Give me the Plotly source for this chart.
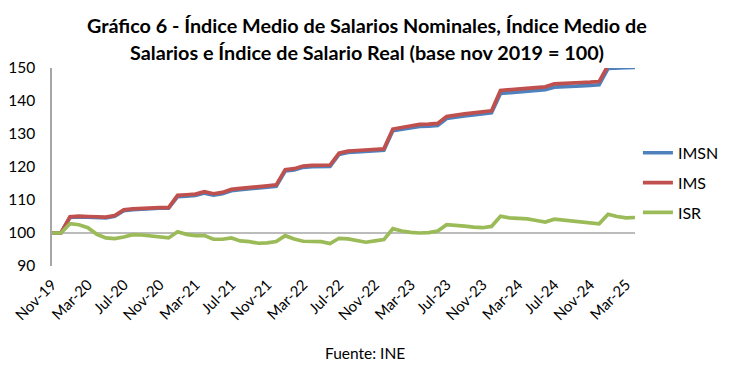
import plotly.graph_objects as go

months = ["Nov-19","Dec-19","Jan-20","Feb-20","Mar-20","Apr-20","May-20","Jun-20","Jul-20","Aug-20","Sep-20","Oct-20",
          "Nov-20","Dec-20","Jan-21","Feb-21","Mar-21","Apr-21","May-21","Jun-21","Jul-21","Aug-21","Sep-21","Oct-21",
          "Nov-21","Dec-21","Jan-22","Feb-22","Mar-22","Apr-22","May-22","Jun-22","Jul-22","Aug-22","Sep-22","Oct-22",
          "Nov-22","Dec-22","Jan-23","Feb-23","Mar-23","Apr-23","May-23","Jun-23","Jul-23","Aug-23","Sep-23","Oct-23",
          "Nov-23","Dec-23","Jan-24","Feb-24","Mar-24","Apr-24","May-24","Jun-24","Jul-24","Aug-24","Sep-24","Oct-24",
          "Nov-24","Dec-24","Jan-25","Feb-25","Mar-25","Apr-25"]

ims = [100.0, 100.0, 104.9, 105.1, 105.0, 104.8, 104.8, 105.3, 107.0, 107.3, 107.5, 107.6,
       107.7, 107.7, 111.4, 111.6, 111.8, 112.5, 111.9, 112.3, 113.2, 113.5, 113.7, 114.0,
       114.3, 114.6, 119.2, 119.5, 120.3, 120.5, 120.5, 120.6, 124.2, 124.8, 125.0, 125.2,
       125.3, 125.5, 131.5, 132.0, 132.3, 132.9, 133.0, 133.2, 135.3, 135.8, 136.1, 136.4,
       136.7, 137.0, 143.2, 143.4, 143.6, 144.0, 144.2, 144.3, 145.2, 145.4, 145.5, 145.6,
       145.7, 145.9, 150.8, 151.0, 151.1, 151.2]

imsn = [100.0, 100.0, 104.7, 104.9, 104.8, 104.6, 104.6, 105.1, 106.8, 107.1, 107.3, 107.4,
        107.5, 107.5, 111.0, 111.2, 111.4, 112.1, 111.5, 111.9, 112.8, 113.1, 113.3, 113.6,
        113.9, 114.2, 118.8, 119.1, 119.9, 120.1, 120.1, 120.2, 123.8, 124.4, 124.6, 124.8,
        124.9, 125.1, 131.0, 131.5, 131.8, 132.3, 132.4, 132.6, 134.7, 135.2, 135.5, 135.8,
        136.1, 136.4, 142.3, 142.5, 142.7, 143.1, 143.3, 143.4, 144.2, 144.4, 144.5, 144.6,
        144.7, 144.9, 149.9, 150.1, 150.1, 150.2]

isr = [100.0, 100.0, 102.8, 102.5, 101.6, 99.6, 98.5, 98.3, 98.8, 99.5, 99.4, 99.1,
       98.7, 98.5, 100.4, 99.6, 99.2, 99.2, 98.1, 98.1, 98.5, 97.6, 97.4, 96.9,
       97.0, 97.4, 99.2, 98.2, 97.5, 97.4, 97.4, 96.8, 98.4, 98.2, 97.6, 97.2,
       97.6, 98.0, 101.3, 100.6, 100.2, 100.0, 100.1, 100.6, 102.5, 102.4, 102.1, 101.8,
       101.6, 102.0, 105.1, 104.6, 104.5, 104.3, 103.8, 103.3, 104.2, 103.9, 103.6, 103.3,
       103.0, 102.8, 105.7, 105.0, 104.6, 104.7]

tick_labels = months[::4]
yticks = [90, 100, 110, 120, 130, 140, 150]
title_lines = ["Gráfico 6 - Índice Medio de Salarios Nominales, Índice Medio de",
               "Salarios e Índice de Salario Real (base nov 2019 = 100)"]
source_text = "Fuente: INE"

x = list(range(len(months)))
FONT = "Lato"

fig = go.Figure()
fig.add_trace(go.Scatter(x=x, y=imsn, mode="lines", name="IMSN", legendgroup="a",
                         line=dict(color="#4F81BD", width=3.7)))
fig.add_trace(go.Scatter(x=x, y=ims, mode="lines", name="IMS", legendgroup="b",
                         line=dict(color="#C0504D", width=3.7)))
fig.add_trace(go.Scatter(x=x, y=isr, mode="lines", name="ISR", legendgroup="c",
                         line=dict(color="#9BBB59", width=3.7)))

fig.add_shape(type="line", xref="paper", yref="y", x0=0, x1=1, y0=100, y1=100,
              line=dict(color="#A6A6A6", width=1.5), layer="below")

title_font = dict(family=FONT, size=19.8, color="#000000", weight="bold")
annotations = [
    dict(text=title_lines[0], xref="paper", yref="paper", x=0.540, y=1.217, xanchor="center",
         yanchor="middle", showarrow=False, font=title_font),
    dict(text=title_lines[1], xref="paper", yref="paper", x=0.540, y=1.081, xanchor="center",
         yanchor="middle", showarrow=False, font=title_font),
    dict(text=source_text, xref="paper", yref="paper", x=0.537, y=-0.44, xanchor="center",
         yanchor="middle", showarrow=False, font=dict(family=FONT, size=15.5, color="#000000")),
]

fig.update_layout(
    width=714, height=371,
    margin=dict(l=44, r=87, t=60, b=113, autoexpand=False),
    paper_bgcolor="white", plot_bgcolor="white",
    font=dict(family=FONT, color="#000000"),
    showlegend=True,
    legend=dict(x=1.005, xanchor="left", y=0.42, yanchor="middle", tracegroupgap=6,
                font=dict(family=FONT, size=16, color="#000000"), bgcolor="rgba(0,0,0,0)"),
    xaxis=dict(range=[0, len(months) - 1], tickmode="array", tickvals=x[::4], ticktext=tick_labels,
               tickangle=-45, showgrid=False, zeroline=False, showline=False,
               tickfont=dict(family=FONT, size=15, color="#000000"), ticks="", automargin=False,
               ticklabelstandoff=6),
    yaxis=dict(range=[90, 150], tickmode="array", tickvals=yticks, showgrid=False, zeroline=False,
               showline=True, linecolor="#A6A6A6", linewidth=1.5, ticks="",
               tickfont=dict(family=FONT, size=15.5, color="#000000"), automargin=False,
               ticklabelstandoff=12),
    annotations=annotations,
)

fig.write_html("out.html")
